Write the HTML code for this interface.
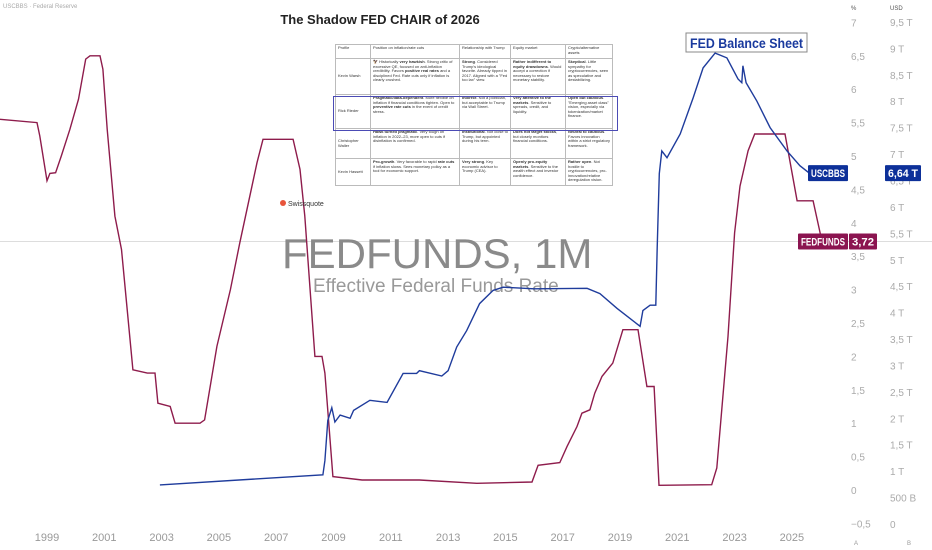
<!DOCTYPE html>
<html><head><meta charset="utf-8"><style>
body{margin:0;background:#fff;font-family:"Liberation Sans",sans-serif;}
#wrap{position:relative;width:932px;height:550px;overflow:hidden;background:#fff}
svg{position:absolute;left:0;top:0}
#tbl{position:absolute;left:335px;top:44px;width:278px;border-collapse:collapse;font-size:4px;line-height:4.6px;color:#333;background:#fff}
#tbl td,#tbl th{border:0.5px solid #bbb;padding:1px 2px;vertical-align:top;text-align:left;font-weight:normal}
#tbl td:first-child{vertical-align:middle}
.hl{position:absolute;left:333px;top:96px;width:283px;height:33px;border:1px solid #4b4bb5}
</style></head><body>
<div id="wrap">
<svg id="chart" width="932" height="550"></svg>
<table id="tbl">
<tr style="height:14px"><th style="width:30px">Profile</th><th style="width:84px">Position on inflation/rate cuts</th><th style="width:46px">Relationship with Trump</th><th style="width:50px">Equity market</th><th>Crypto/alternative assets</th></tr>
<tr style="height:36px"><td>Kevin Warsh</td><td>🦅 Historically <b>very hawkish</b>. Strong critic of excessive QE, focused on anti-inflation credibility. Favors <b>positive real rates</b> and a disciplined Fed. Rate cuts only if inflation is clearly crushed.</td><td><b>Strong</b>. Considered Trump's ideological favorite. Already tipped in 2017. Aligned with a "Fed too lax" view.</td><td><b>Rather indifferent to equity drawdowns</b>. Would accept a correction if necessary to restore monetary stability.</td><td><b>Skeptical</b>. Little sympathy for cryptocurrencies, seen as speculative and destabilizing.</td></tr>
<tr style="height:34px"><td>Rick Rieder</td><td><b>Pragmatic/data-dependent</b>. More flexible on inflation if financial conditions tighten. Open to <b>preventive rate cuts</b> in the event of credit stress.</td><td><b>Indirect</b>. Not a politician, but acceptable to Trump via Wall Street.</td><td><b>Very attentive to the markets</b>. Sensitive to spreads, credit, and liquidity.</td><td><b>Open but cautious</b>. "Emerging asset class" vision, especially via tokenization/market finance.</td></tr>
<tr style="height:30px"><td>Christopher Waller</td><td><b>Hawk turned pragmatic</b>. Very tough on inflation in 2022–23, more open to cuts if disinflation is confirmed.</td><td><b>Institutional</b>. Not close to Trump, but appointed during his term.</td><td><b>Does not target stocks</b>, but closely monitors financial conditions.</td><td><b>Neutral to cautious</b>. Favors innovation within a strict regulatory framework.</td></tr>
<tr style="height:27px"><td>Kevin Hassett</td><td><b>Pro-growth</b>. Very favorable to rapid <b>rate cuts</b> if inflation slows. Sees monetary policy as a tool for economic support.</td><td><b>Very strong</b>. Key economic advisor to Trump (CEA).</td><td><b>Openly pro-equity markets</b>. Sensitive to the wealth effect and investor confidence.</td><td><b>Rather open</b>. Not hostile to cryptocurrencies, pro-innovation/relative deregulation vision.</td></tr>
</table>
<div class="hl"></div>
</div>
<script>
const ffDates=[1997.36,1998.65,1998.75,1999.0,1999.1,1999.3,1999.5,1999.8,2000.1,2000.35,2000.5,2000.85,2000.95,2001.1,2001.37,2001.6,2002.0,2002.5,2002.77,2002.87,2003.3,2003.47,2004.34,2004.5,2004.93,2005.4,2005.73,2006.33,2006.54,2007.59,2007.83,2008.0,2008.35,2008.6,2008.7,2008.98,2010.0,2012.0,2014.0,2015.93,2016.14,2016.9,2017.15,2017.5,2017.67,2017.95,2018.12,2018.37,2018.75,2019.1,2019.63,2019.94,2020.19,2020.36,2022.2,2022.38,2022.77,2023.0,2023.19,2023.47,2023.7,2024.7,2024.76,2025.18,2025.74,2026.05];
const ffValues=[5.55,5.5,5.3,4.63,4.74,4.75,5.0,5.4,5.85,6.45,6.5,6.5,6.3,5.4,4.1,3.6,1.8,1.75,1.75,1.3,1.25,1.0,1.0,1.05,2.15,3.0,3.7,4.9,5.25,5.25,4.8,4.1,2.0,2.0,1.75,0.2,0.15,0.15,0.1,0.12,0.37,0.41,0.65,0.95,1.15,1.2,1.45,1.7,1.9,2.4,2.4,1.55,1.55,0.07,0.08,0.33,2.3,3.85,4.55,5.08,5.33,5.33,5.33,4.33,4.33,3.72];
const bsDates=[2002.94,2008.63,2008.7,2008.8,2008.94,2009.05,2009.23,2009.58,2009.7,2010.27,2010.87,2011.43,2011.9,2012.0,2012.78,2013.0,2013.3,2013.65,2014.1,2014.57,2014.92,2016.0,2017.85,2018.3,2018.9,2019.7,2019.8,2020.05,2020.25,2020.3,2020.37,2020.46,2020.64,2021.1,2021.55,2021.9,2022.32,2022.73,2023.12,2023.25,2023.29,2023.4,2023.78,2024.24,2024.83,2025.28,2025.63,2025.7];
const bsValues=[0.74,0.93,1.2,1.96,2.2,1.93,2.06,2.0,2.15,2.34,2.3,2.85,2.85,2.9,2.8,2.9,3.35,3.66,4.17,4.42,4.48,4.45,4.46,4.36,4.08,3.74,4.04,4.14,4.14,5.23,6.63,7.06,6.93,7.38,8.06,8.63,8.91,8.82,8.42,8.35,8.67,8.35,8.0,7.5,7.06,6.78,6.63,6.64];
const yearTicks=[1999,2001,2003,2005,2007,2009,2011,2013,2015,2017,2019,2021,2023,2025];
const pctTicks=["7","6,5","6","5,5","5","4,5","4","3,5","3","2,5","2","1,5","1","0,5","0","−0,5"];
const usdTicks=["9,5 T","9 T","8,5 T","8 T","7,5 T","7 T","6,5 T","6 T","5,5 T","5 T","4,5 T","4 T","3,5 T","3 T","2,5 T","2 T","1,5 T","1 T","500 B","0"];
const NS="http://www.w3.org/2000/svg";
const svg=document.getElementById('chart');
const xS=y=>47+(y-1999)*28.65;
const yP=v=>490-v*66.8;
const yU=v=>524-v*52.85;
function mk(t,a,txt){const e=document.createElementNS(NS,t);for(const k in a)e.setAttribute(k,a[k]);if(txt!==undefined)e.textContent=txt;svg.appendChild(e);return e;}
let e=mk('line',{x1:0,x2:932,y1:yP(ffValues[ffValues.length-1]),y2:yP(ffValues[ffValues.length-1]),stroke:'#ddd','stroke-width':1});


e=mk('text',{x:282,y:268,'font-size':42,fill:'#8a8a8a','font-family':'Liberation Sans'},'FEDFUNDS, 1M');


e=mk('text',{x:313,y:292,'font-size':19,fill:'#999','font-family':'Liberation Sans'},'Effective Federal Funds Rate');


let d=ffDates.map((t,i)=>(i?'L':'M')+xS(t).toFixed(1)+','+yP(ffValues[i]).toFixed(1)).join('');
e=mk('path',{d:d,fill:'none',stroke:'#8e1c4c','stroke-width':1.4});


d=bsDates.map((t,i)=>(i?'L':'M')+xS(t).toFixed(1)+','+yU(bsValues[i]).toFixed(1)).join('');
e=mk('path',{d:d,fill:'none',stroke:'#1f3c9c','stroke-width':1.4});


yearTicks.forEach(y=>{const t=mk('text',{x:xS(y),y:541,'font-size':11,fill:'#999','text-anchor':'middle'},y);

});
pctTicks.forEach((s,i)=>{const t=mk('text',{x:851,y:yP(7-i*0.5)+4,'font-size':10,fill:'#aaa'},s);

});
usdTicks.forEach((s,i)=>{const t=mk('text',{x:890,y:yU(9.5-i*0.5)+4,'font-size':10,fill:'#aaa'},s);

});
e=mk('text',{x:851,y:10,'font-size':6,fill:'#555'},'%');


e=mk('text',{x:890,y:10,'font-size':6,fill:'#555'},'USD');


e=mk('text',{x:3,y:8,'font-size':6,fill:'#aaa'},'USCBBS · Federal Reserve');


e=mk('text',{x:854,y:545,'font-size':6,fill:'#999'},'A');


e=mk('text',{x:907,y:545,'font-size':6,fill:'#999'},'B');


e=mk('text',{x:380,y:24,'font-size':13,'font-weight':'bold',fill:'#222','text-anchor':'middle'},'The Shadow FED CHAIR of 2026');


e=mk('rect',{x:686,y:33,width:121,height:19,fill:'#fff',stroke:'#888','stroke-width':1});


e=mk('text',{x:690,y:48,'font-size':14,'font-weight':'bold',fill:'#1a3a9e',textLength:113,lengthAdjust:'spacingAndGlyphs'},'FED Balance Sheet');


e=mk('circle',{cx:283,cy:203,r:3,fill:'#e8553c'});


e=mk('text',{x:288,y:206,'font-size':7,fill:'#333'},'Swissquote');


const lastBs=bsValues[bsValues.length-1], lastFf=ffValues[ffValues.length-1];
function tag(x,yc,w,bg,txt,name){const r=mk('rect',{x:x,y:yc-8,width:w,height:16,fill:bg,rx:1});


const t=mk('text',{x:x+3,y:yc+4,'font-size':11,'font-weight':'bold',fill:'#fff',textLength:w-6,lengthAdjust:'spacingAndGlyphs'},txt);

}
tag(808,yU(lastBs),40,'#0d3099','USCBBS','uscbbs-series-tag');
tag(885,yU(lastBs),36,'#0d3099',String(lastBs).replace('.',',')+' T','uscbbs-value-tag');
tag(798,yP(lastFf),50,'#8b1450','FEDFUNDS','fedfunds-series-tag');
tag(849,yP(lastFf),28,'#8b1450',String(lastFf).replace('.',','),'fedfunds-value-tag');
</script>
</body></html>
